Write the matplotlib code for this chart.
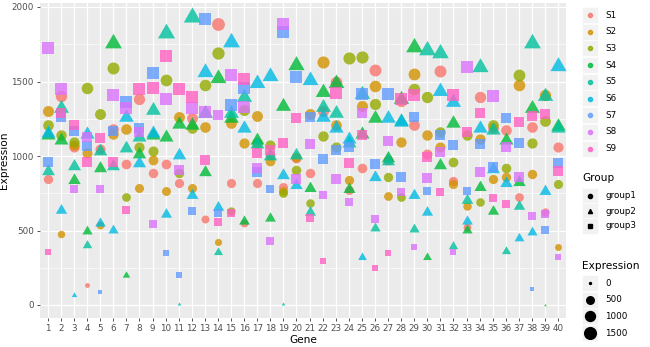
import numpy as np
import matplotlib
matplotlib.use("Agg")
import matplotlib.pyplot as plt
from matplotlib.path import Path
from matplotlib.lines import Line2D

genes = list(range(1, 41))
samples = ["S1", "S2", "S3", "S4", "S5", "S6", "S7", "S8", "S9"]
groups = ["group1", "group1", "group1", "group2", "group2", "group2", "group3", "group3", "group3"]
colors = ["#F8766D", "#D39200", "#93AA00", "#00BA38", "#00C19F", "#00B9E3", "#619CFF", "#DB72FB", "#FF61C3"]

S1 = [843, 1403, 1060, 134, 1050, 1180, 946, 1380, 888, 944, 821, 1253, 575, 1886, 821, 548, 816, 1010, 790, 984,
      884, 1300, 1500, 770, 917, 1577, 975, 1370, 1208, 1013, 1573, 832, 526, 1394, 1190, 1174, 723, 1197, 626, 1063]
S2 = [1304, 474, 1075, 1018, 535, 1150, 1179, 783, 973, 767, 1264, 783, 1197, 420, 1224, 1085, 1268, 965, 765, 990,
      1282, 1633, 1208, 840, 1335, 1470, 731, 1096, 1550, 1141, 1063, 810, 664, 1112, 843, 861, 1476, 877, 1409, 391]
S3 = [1208, 1141, 1095, 1454, 1282, 1590, 727, 1063, 1036, 1510, 888, 1186, 1476, 1693, 633, 1309, 1090, 1075, 749, 906,
      687, 1134, 1063, 1655, 1662, 1349, 861, 727, 1447, 1398, 1163, 957, 1141, 693, 1208, 917, 1544, 1089, 1237, 812]
S4 = [1140, 1107, 840, 497, 922, 1760, 201, 1013, 1140, 1130, 1215, 1208, 895, 1521, 1253, 566, 1107, 585, 1335, 1610,
      783, 1432, 1490, 778, 1145, 1253, 984, 1380, 1734, 324, 940, 1224, 503, 790, 633, 1110, 828, 1320, 0, 1201]
S5 = [901, 1320, 930, 403, 1036, 930, 1051, 1130, 1309, 1823, 7, 1935, 1290, 353, 1286, 1398, 1080, 1000, 7, 1007,
      626, 1331, 1286, 1090, 1415, 514, 965, 1235, 508, 1711, 1689, 396, 705, 1595, 1174, 365, 664, 1756, 1403, 1190]
S6 = [1157, 640, 67, 1150, 548, 503, 1259, 951, 1152, 611, 1007, 738, 1566, 660, 1767, 1186, 1488, 1537, 872, 805,
      1510, 1259, 1186, 1115, 324, 861, 1253, 1230, 738, 626, 1438, 1365, 566, 1186, 910, 816, 452, 492, 767, 1604]
S7 = [957, 1259, 1170, 1070, 85, 1170, 1365, 1190, 1555, 347, 201, 631, 1919, 615, 1342, 1454, 895, 776, 1834, 1532,
      1264, 980, 1040, 1060, 1416, 946, 1416, 857, 1259, 767, 1141, 1074, 767, 1080, 928, 1253, 1089, 107, 503, 951]
S8 = [1727, 1447, 776, 1130, 776, 1410, 1320, 1163, 544, 1380, 906, 1320, 1297, 1275, 1544, 1331, 917, 432, 1886, 843,
      1080, 738, 846, 693, 1286, 577, 1103, 761, 391, 850, 1029, 358, 1600, 895, 1403, 1063, 861, 597, 611, 324]
S9 = [358, 1291, 1205, 960, 1123, 960, 637, 1447, 1454, 1671, 1447, 1398, 973, 559, 615, 1517, 1022, 1040, 1089, 1253,
      582, 295, 1420, 955, 1141, 246, 347, 1380, 1409, 995, 761, 1409, 1163, 1291, 720, 678, 1226, 1268, 1282, 901]
series = [S1, S2, S3, S4, S5, S6, S7, S8, S9]

size_breaks = [0, 500, 1000, 1500]

DPI = 100
W, H = 650, 347
fig = plt.figure(figsize=(W / DPI, H / DPI), dpi=DPI)
fig.patch.set_facecolor("white")

left, right, top, bottom = 40, 566, 3, 318
ax = fig.add_axes([left / W, 1 - bottom / H, (right - left) / W, (bottom - top) / H])
ax.set_facecolor("#EBEBEB")
for s in ax.spines.values():
    s.set_visible(False)

allv = np.concatenate([np.array(s, float) for s in series])
vmin, vmax = allv.min(), allv.max()

# ggplot-like size scale: size = 1 + 5*sqrt(rescaled)  ->  diameter in px
PX2PT = 72.0 / DPI


def diam_pt(v):
    v = np.asarray(v, float)
    frac = np.clip((np.sqrt(v) - np.sqrt(vmin)) / (np.sqrt(vmax) - np.sqrt(vmin)), 0, 1)
    d_px = 2.0 + 11.0 * frac
    return d_px * PX2PT


TRC0 = 1.5551203
tri_path = Path([[0, TRC0], [-TRC0 * np.sqrt(3) / 2, -TRC0 / 2], [TRC0 * np.sqrt(3) / 2, -TRC0 / 2], [0, TRC0]],
                [Path.MOVETO, Path.LINETO, Path.LINETO, Path.CLOSEPOLY])
shape_marker = {"group1": "o", "group2": tri_path, "group3": "s"}
shape_scale = {"group1": 1.0, "group2": TRC0, "group3": 1.0}

x = np.array(genes, float)
# draw in data order: gene by gene, sample by sample
for gi, g in enumerate(genes):
    for si in range(len(samples)):
        v = series[si][gi]
        grp = groups[si]
        d = diam_pt(v) * shape_scale[grp]
        ax.scatter([g], [v], s=d ** 2, marker=shape_marker[grp], color=colors[si],
                   alpha=0.8, linewidths=0, zorder=3)

ax.set_xlim(0.4, 40.6)
ymin = 0 - (318 - 305) / 0.149
ymax = 2000 + (7 - 3) / 0.149
ax.set_ylim(ymin, ymax)

ax.set_xticks(genes)
ax.set_xticklabels([str(g) for g in genes])
ax.set_yticks([0, 500, 1000, 1500, 2000])
ax.set_yticks([250, 750, 1250, 1750], minor=True)
ax.grid(which="major", color="white", linewidth=0.9, zorder=0)
ax.grid(which="minor", axis="y", color="white", linewidth=0.45, zorder=0)
ax.set_axisbelow(True)
ax.tick_params(axis="both", which="major", length=2.5, width=0.6, color="#333333",
               labelsize=6.3, labelcolor="#4D4D4D", pad=2)
ax.tick_params(axis="both", which="minor", length=0)
ax.set_xlabel("Gene", fontsize=7.6, color="black", labelpad=1)
ax.set_ylabel("Expression", fontsize=7.6, color="black", labelpad=2)

# Legends (manual, ggplot style)
def key_box(yc):
    fig.patches.append(plt.Rectangle(((582) / W, 1 - (yc + 8) / H), 16 / W, 16 / H,
                                     transform=fig.transFigure, facecolor="#F2F2F2",
                                     edgecolor="white", linewidth=0.5))

label_x = 605 / W
key_x = 590 / W
ys_col = [15 + i * 16.7 for i in range(9)]
for i, (sname, c) in enumerate(zip(samples, colors)):
    yc = ys_col[i]
    key_box(yc)
    fig.add_artist(Line2D([key_x], [1 - yc / H], marker="o", markersize=3.0, color=c, alpha=0.8,
                          linestyle="none", transform=fig.transFigure))
    fig.text(label_x, 1 - yc / H, sname, fontsize=6.3, va="center", ha="left", color="black")

fig.text(582 / W, 1 - 178 / H, "Group", fontsize=7.6, va="center", ha="left")
grp_names = ["group1", "group2", "group3"]
grp_mk = ["o", "^", "s"]
for i, (gn, mk) in enumerate(zip(grp_names, grp_mk)):
    yc = 196 + i * 15
    key_box(yc)
    fig.add_artist(Line2D([key_x], [1 - yc / H], marker=mk, markersize=3.0, color="black",
                          linestyle="none", transform=fig.transFigure))
    fig.text(label_x, 1 - yc / H, gn, fontsize=6.3, va="center", ha="left")

fig.text(582 / W, 1 - 266 / H, "Expression", fontsize=7.6, va="center", ha="left")
for i, b in enumerate(size_breaks):
    yc = 283 + i * 16.7
    key_box(yc)
    fig.add_artist(Line2D([key_x], [1 - yc / H], marker="o", markersize=float(diam_pt(b)),
                          color="black", linestyle="none", transform=fig.transFigure))
    fig.text(label_x, 1 - yc / H, str(b), fontsize=6.3, va="center", ha="left")

fig.savefig("out.png", dpi=DPI)
